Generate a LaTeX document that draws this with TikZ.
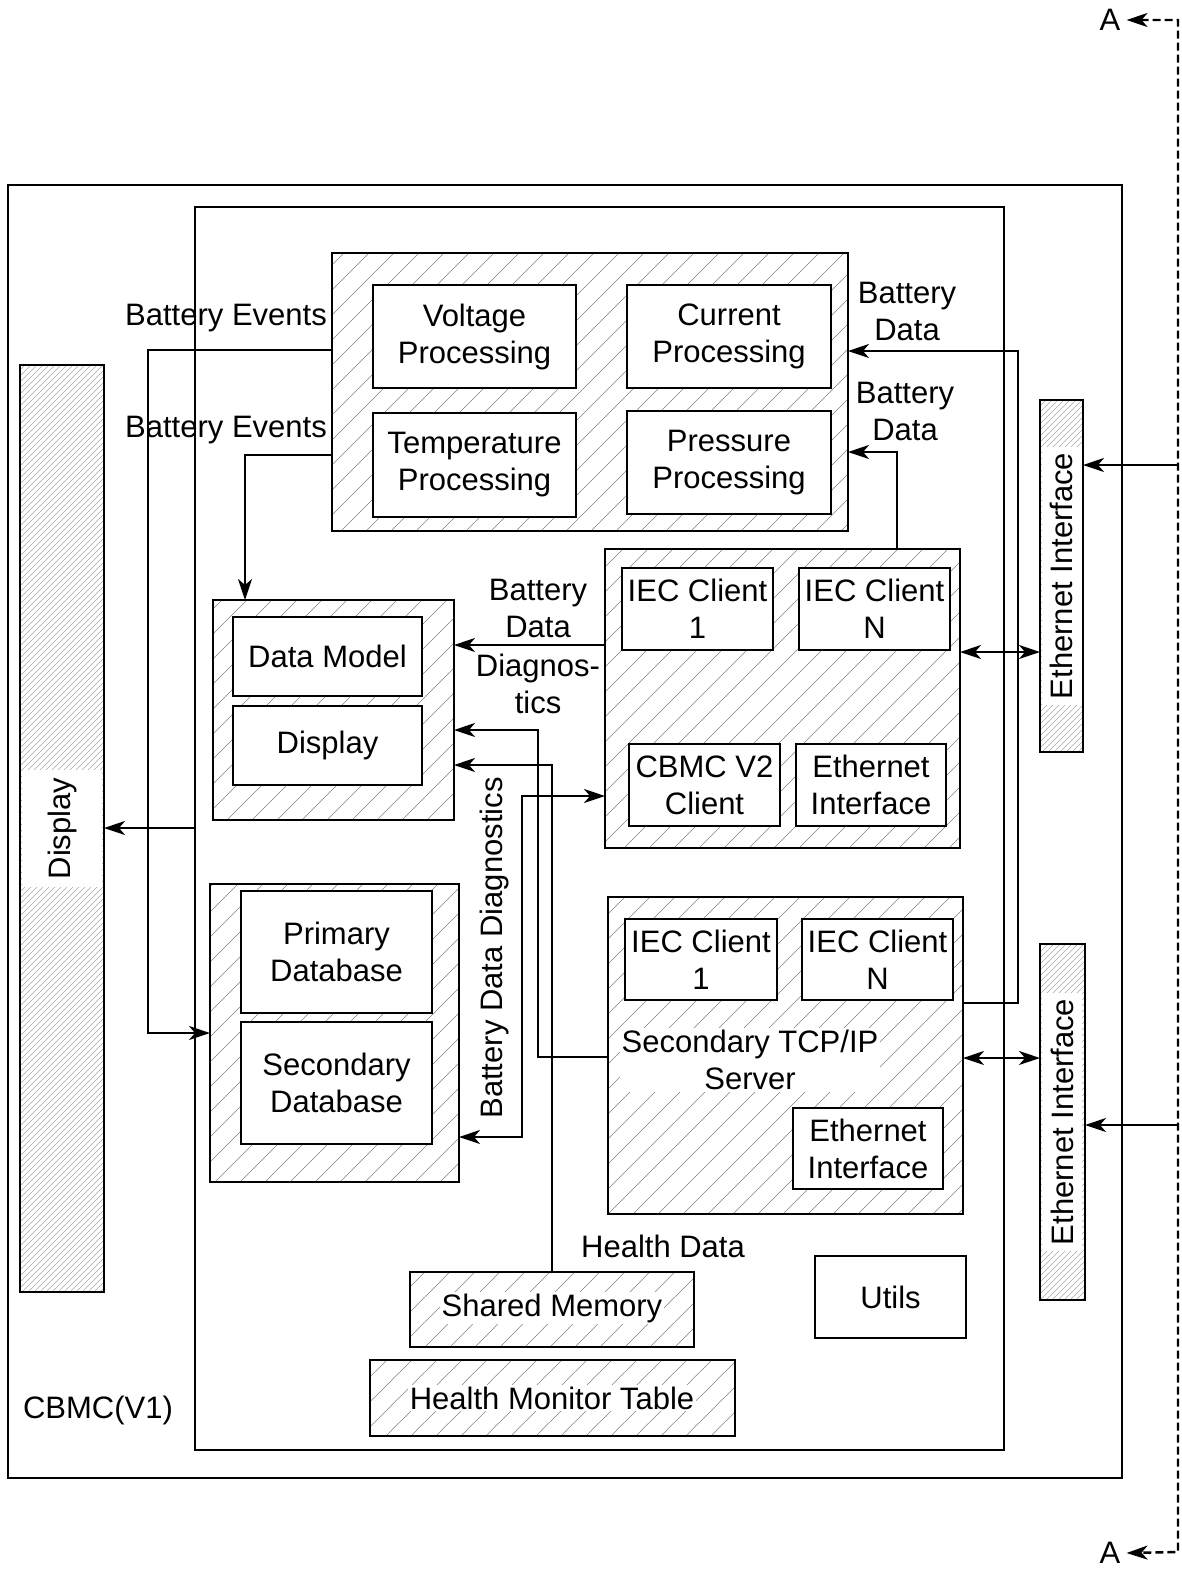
\documentclass[tikz,border=0pt]{standalone}
\usepackage{fontspec}
\setmainfont{Liberation Sans}
\usetikzlibrary{arrows.meta,patterns.meta}
\pgfdeclarepattern{
  name=bighatch, type=uncolored,
  bottom left={\pgfpoint{0pt}{0pt}}, top right={\pgfpoint{25pt}{25pt}},
  tile size={\pgfpoint{25pt}{25pt}},
  code={\pgfsetlinewidth{0.55pt}%
    \pgfpathmoveto{\pgfpoint{-1pt}{-1pt}}\pgfpathlineto{\pgfpoint{26pt}{26pt}}\pgfusepath{stroke}}
}
\pgfdeclarepattern{
  name=densehatch, type=uncolored,
  bottom left={\pgfpoint{0pt}{0pt}}, top right={\pgfpoint{6pt}{6pt}},
  tile size={\pgfpoint{6pt}{6pt}},
  code={\pgfsetlinewidth{0.6pt}%
    \pgfpathmoveto{\pgfpoint{-1pt}{-1pt}}\pgfpathlineto{\pgfpoint{7pt}{7pt}}\pgfusepath{stroke}}
}
\tikzset{
  txt/.style={font=\fontsize{31}{37}\selectfont, align=center, inner sep=0pt},
  frame/.style={draw, line width=2.2pt, inner sep=0pt, outer sep=0pt},
  wbox/.style={draw, line width=2.3pt, fill=white, inner sep=0pt, outer sep=0pt, txt},
  hbox/.style={draw, line width=2.3pt, pattern={bighatch}, pattern color=black!50, inner sep=0pt, outer sep=0pt},
  dbox/.style={draw, line width=2.2pt, pattern={densehatch}, pattern color=gray!70, inner sep=0pt, outer sep=0pt},
  lbl/.style={txt, fill=white, inner sep=2pt},
  wire/.style={line width=1.9pt},
  tip/.tip={Stealth[length=21pt,width=14pt,inset=6pt]},
  conn/.style={wire, -tip},
  conn2/.style={wire, tip-tip},
  dashA/.style={line width=2.4pt, dash pattern=on 8pt off 4pt, tip-tip},
}
\newcommand{\rb}[7][]{\node[#2, minimum width={#5pt-#3pt}, minimum height={#6pt-#4pt}] (#7) at ({(#3+#5)/2},{(#4+#6)/2}) {#1};}
\begin{document}
\begin{tikzpicture}[x=1pt,y=-1pt]
\useasboundingbox (0,0) rectangle (1182,1572);
% frames
\rb{frame}{8}{185}{1122}{1478}{outer}
\rb{frame}{195}{207}{1004}{1450}{inner}
% processing group
\rb{hbox}{332}{253}{848}{531}{proc}
\rb[Voltage\\Processing]{wbox}{373}{285}{576}{388}{volt}
\rb[Current\\Processing]{wbox}{627}{285}{831}{388}{curr}
\rb[Temperature\\Processing]{wbox}{373}{413}{576}{517}{temp}
\rb[Pressure\\Processing]{wbox}{627}{411}{831}{514}{pres}
% display group
\rb{hbox}{213}{600}{454}{820}{dispg}
\rb[Data Model]{wbox}{233}{617}{422}{696}{dmod}
\rb[Display]{wbox}{233}{706}{422}{785}{disp}
% IEC group
\rb{hbox}{605}{549}{960}{848}{iec}
\rb[IEC Client\\1]{wbox}{622}{568}{773}{650}{iecA}
\rb[IEC Client\\N]{wbox}{799}{568}{950}{650}{iecB}
\rb[CBMC V2\\Client]{wbox}{629}{744}{780}{826}{cbmc}
\rb[Ethernet\\Interface]{wbox}{796}{744}{946}{826}{ethi}
% database group
\rb{hbox}{210}{884}{459}{1182}{dbg}
\rb[Primary\\Database]{wbox}{241}{891}{432}{1013}{pdb}
\rb[Secondary\\Database]{wbox}{241}{1022}{432}{1144}{sdb}
% secondary tcp group
\rb{hbox}{608}{897}{963}{1214}{tcp}
\rb[IEC Client\\1]{wbox}{625}{919}{777}{1000}{tiecA}
\rb[IEC Client\\N]{wbox}{802}{919}{953}{1000}{tiecB}
\rb[Ethernet\\Interface]{wbox}{793}{1108}{943}{1189}{teth}
\node[lbl] (tcpt) at (750,1060) {Secondary TCP/IP\\Server};
% bottom
\rb{hbox}{410}{1272}{694}{1347}{shm}
\node[lbl] (shmt) at (552,1308) {Shared Memory};
\rb{hbox}{370}{1360}{735}{1436}{hmt}
\node[lbl] (hmtt) at (552,1398) {Health Monitor Table};
\rb[Utils]{wbox}{815}{1256}{966}{1338}{utils}
% side bars
\rb{dbox}{20}{365}{104}{1292}{dbar}
\node[lbl, rotate=90, minimum height=80pt, inner xsep=8pt] (dbart) at (dbar) {Display};
\rb{dbox}{1040}{400}{1083}{752}{eth1}
\node[lbl, rotate=90, minimum height=40pt, inner xsep=6pt] (eth1t) at (eth1) {Ethernet Interface};
\rb{dbox}{1040}{944}{1085}{1300}{eth2}
\node[lbl, rotate=90, minimum height=40pt, inner xsep=6pt] (eth2t) at (1062,1122) {Ethernet Interface};
% labels
\node[txt, anchor=east] (be1) at (327,318) {Battery Events};
\node[txt, anchor=east] (be2) at (327,430) {Battery Events};
\node[txt] (bd1) at (907,311) {Battery\\Data};
\node[txt] (bd2) at (905,411) {Battery\\Data};
\node[txt] (bdd1) at (538,608) {Battery\\Data};
\node[txt] (bdd2) at (538,684) {Diagnos-\\tics};
\node[txt, rotate=90] (bddv) at (494,948) {Battery Data Diagnostics};
\node[txt] (hd) at (663,1246) {Health Data};
\node[txt] (cbmcl) at (98,1410) {CBMC(V1)};
\node[txt] (Atop) at (1110,20) {A};
\node[txt] (Abot) at (1110,1553) {A};
% A-A dashed line
\coordinate (dA1) at (1178,20);
\coordinate (dA2) at (1178,1552);
\draw[dashA] ([xshift=6pt]Atop.east) -- (dA1) -- (dA2) -- ([xshift=6pt]Abot.east);
\coordinate (dE1) at (1178,465);
\coordinate (dE2) at (1178,1125);
\draw[conn] (dE1) -- (eth1.east |- 0,465);
\draw[conn] (dE2) -- (eth2.east |- 0,1125);
% connectors
\draw[conn] (proc.west |- 0,350) -- (148,350) |- (dbg.west |- 0,1033);
\draw[conn] (proc.west |- 0,455) -| (dispg.north -| 245,0);
\draw[conn] (inner.west |- 0,828) -- (dbar.east |- 0,828);
\draw[conn] (tcp.east |- 0,1003) -- (1018,1003) |- (proc.east |- 0,351);
\draw[conn] (iec.north -| 897,0) |- (proc.east |- 0,452);
\draw[conn2] (iec.east |- 0,652) -- (eth1.west |- 0,652);
\draw[conn2] (tcp.east |- 0,1058) -- (eth2.west |- 0,1058);
\draw[conn] (iec.west |- 0,645) -- (dispg.east |- 0,645);
\draw[conn] (tcp.west |- 0,1057) -- (538,1057) |- (dispg.east |- 0,730);
\draw[conn] (shm.north -| 552,0) |- (dispg.east |- 0,765);
\draw[conn2] (dbg.east |- 0,1137) -- (522,1137) |- (iec.west |- 0,796);
\end{tikzpicture}
\end{document}
